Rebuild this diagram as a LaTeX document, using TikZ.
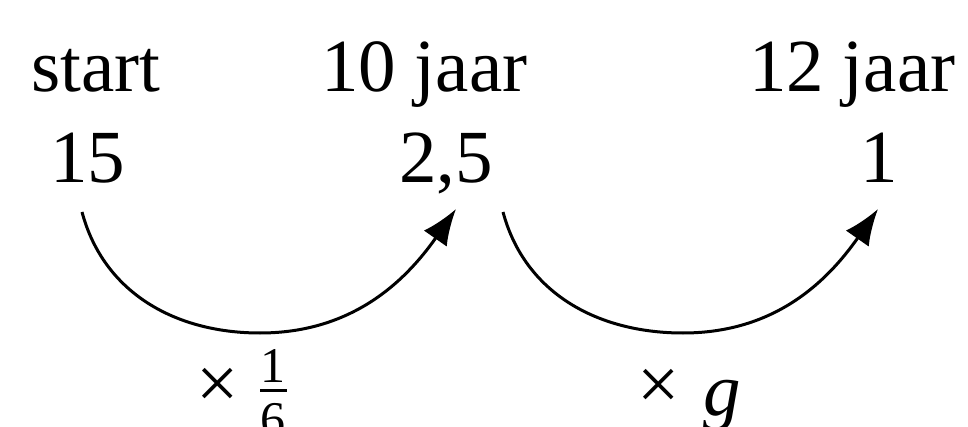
\documentclass[tikz,border=0pt]{standalone}
\usepackage{fontspec}
\setmainfont{Liberation Serif}
\usetikzlibrary{arrows.meta}
\begin{document}
\begin{tikzpicture}[x=1pt,y=1pt,
  txt/.style={inner sep=0pt, anchor=base west, font=\fontsize{75}{80}\selectfont},
  small/.style={inner sep=0pt, anchor=base, font=\fontsize{50}{55}\selectfont},
  arr/.style={line width=3pt, -{Latex[length=36pt,width=28pt]}},
  fbar/.style={line width=3pt}]
\useasboundingbox (0,0) rectangle (968,426);
% headings
\node[txt] (hstart) at (31,334) {start};
\node[txt] (h10) at (321,334) {10 jaar};
\node[txt] (h12) at (749,334) {12 jaar};
% values
\node[txt] (v15) at (50,243) {15};
\node[txt] (v25) at (399,243) {2,5};
\node[txt] (v1) at (860,243) {1};
% arrow 1
\coordinate (a1s) at (82,214);
\coordinate (a1b) at (260,93);
\coordinate (a1e) at (456,217);
\draw[arr] (a1s) to[out=-75,in=180] (a1b) to[out=0,in=235] (a1e);
% arrow 2
\coordinate (a2s) at (503,214);
\coordinate (a2b) at (683,93);
\coordinate (a2e) at (878,217);
\draw[arr] (a2s) to[out=-75,in=180] (a2b) to[out=0,in=235] (a2e);
% label 1
\node[txt] (x1) at (196,18) {×};
\node[small] (n1) at (273,44) {1};
\node[small] (d1) at (273,-10) {6};
\coordinate (b1l) at (260,36);
\coordinate (b1r) at (287,36);
\draw[fbar] (b1l) -- (b1r);
% label 2
\node[txt] (x2) at (637,17) {×};
\node[txt, font=\fontsize{75}{80}\selectfont\itshape] (g) at (703,11) {g};
\end{tikzpicture}
\end{document}
